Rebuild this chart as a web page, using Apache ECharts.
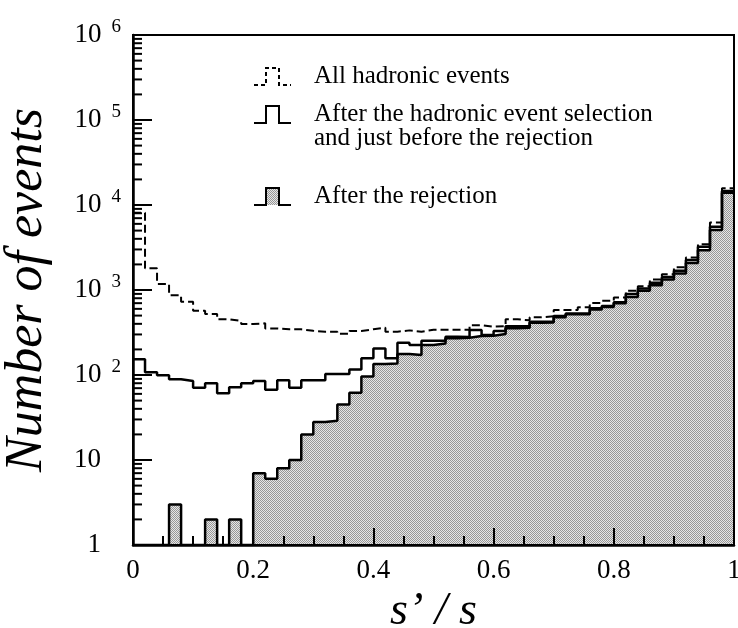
<!DOCTYPE html>
<html>
<head>
<meta charset="utf-8">
<script src="https://cdn.jsdelivr.net/npm/echarts@6/dist/echarts.min.js"></script>
<style>
html,body{margin:0;padding:0;background:#fff;}
#chart{width:738px;height:628px;}
</style>
</head>
<body>
<div id="chart"></div>
<script>
// ---- data (50 bins of s'/s, width 0.02) ----
const binWidth = 0.02;
const xTicks = [0, 0.2, 0.4, 0.6, 0.8, 1];
const yDecades = [1, 10, 100, 1000, 10000, 100000, 1000000];
const seriesNames = [
  'All hadronic events',
  'After the hadronic event selection\nand just before the rejection',
  'After the rejection'
];
const allHadronic = [
  8100, 1800, 1180, 870, 728, 570, 522, 452, 432, 398,
  405, 353, 345, 345, 331, 323, 323, 305, 330, 345,
  360, 323, 335, 323, 340, 340, 340, 340, 386, 370,
  375, 452, 440, 478, 490, 580, 580, 625, 705, 745,
  814, 980, 1110, 1325, 1530, 1850, 2420, 3450, 6220, 15740
];
const afterSelection = [
  153, 108, 99, 89, 85, 71, 80, 61, 72, 80,
  85, 67, 87, 71, 87, 87, 103, 103, 116, 157,
  205, 157, 239, 225, 253, 253, 281, 280, 338, 295,
  330, 375, 375, 423, 423, 495, 530, 530, 610, 647,
  720, 895, 1040, 1220, 1420, 1680, 2250, 3230, 5560, 14600
];
const afterRejection = [
  0, 0, 0, 3, 0, 0, 2, 0, 2, 0,
  7, 6, 8, 10, 20, 28, 29, 45, 62, 96,
  135, 137, 177, 172, 225, 235, 270, 275, 287, 290,
  304, 354, 360, 411, 415, 478, 520, 520, 590, 630,
  700, 830, 980, 1140, 1330, 1560, 2080, 2940, 5070, 13980
];

// ---- helpers ----
const yMin = yDecades[0], yMax = yDecades[yDecades.length - 1];
function stepPoints(vals) {
  // left bin edges with bin contents; empty bins sit on the axis floor
  const pts = vals.map((v, i) => [+(i * binWidth).toFixed(2), Math.max(v, yMin)]);
  pts.push([1, Math.max(vals[vals.length - 1], yMin)]);
  return pts;
}
// minor log tick values (2..9 per decade)
const minorTickValues = [];
for (let d = 0; d < yDecades.length - 1; d++)
  for (let k = 2; k <= 9; k++) minorTickValues.push(k * yDecades[d]);

// stipple fill pattern
const pc = document.createElement('canvas');
pc.width = 2; pc.height = 2;
const pctx = pc.getContext('2d');
pctx.fillStyle = '#e6e6e6'; pctx.fillRect(0, 0, 2, 2);
pctx.fillStyle = '#979797'; pctx.fillRect(0, 0, 1, 1); pctx.fillRect(1, 1, 1, 1);
const stipple = { image: pc, repeat: 'repeat' };

const serif = '"Liberation Serif", "DejaVu Serif", serif';
const stepIcon = 'path://M0,17 L12,17 L12,0 L25,0 L25,17 L37,17';
const legendCommon = {
  orient: 'vertical', left: 253, padding: 0, itemWidth: 37, itemHeight: 17,
  selectedMode: false,
  textStyle: { fontFamily: serif, fontSize: 25, color: '#000', lineHeight: 24, padding: [0, 0, 0, 18] }
};

const chart = echarts.init(document.getElementById('chart'), null, { renderer: 'canvas' });
chart.setOption({
  animation: false,
  backgroundColor: '#fff',
  grid: { left: 133, right: 4, top: 35, bottom: 83, containLabel: false, outerBoundsMode: 'none',
    show: true, z: 10, backgroundColor: 'transparent', borderColor: '#000', borderWidth: 2 },
  legend: [
    Object.assign({}, legendCommon, {
      top: 64,
      data: [{ name: seriesNames[0], icon: stepIcon,
        itemStyle: { color: 'transparent', borderColor: '#000', borderWidth: 2, borderType: [4, 3] } }]
    }),
    Object.assign({}, legendCommon, {
      top: 78,
      formatter: n => ' \n' + n,
      data: [{ name: seriesNames[1], icon: stepIcon,
        itemStyle: { color: 'transparent', borderColor: '#000', borderWidth: 2 } }]
    }),
    Object.assign({}, legendCommon, {
      top: 184,
      data: [{ name: seriesNames[2], icon: stepIcon,
        itemStyle: { color: stipple, borderColor: '#000', borderWidth: 2 } }]
    })
  ],
  xAxis: {
    type: 'value', min: 0, max: 1, interval: 0.2, position: 'bottom', z: 11,
    name: 's\u2019 / s', nameLocation: 'middle', nameGap: 33,
    nameTextStyle: { fontFamily: serif, fontStyle: 'italic', fontSize: 46, color: '#000' },
    axisLine: { show: true, onZero: false, lineStyle: { color: '#000', width: 2.5 } },
    axisTick: { show: true, inside: true, length: 17, lineStyle: { color: '#000', width: 2 } },
    minorTick: { show: true, splitNumber: 4, length: 9, lineStyle: { color: '#000', width: 2 } },
    axisLabel: { fontFamily: serif, fontSize: 27, color: '#000', margin: 12 },
    splitLine: { show: false }, minorSplitLine: { show: false }
  },
  yAxis: {
    type: 'log', logBase: 10, min: yMin, max: yMax, interval: 1, splitNumber: 6,
    position: 'left', z: 11,
    name: 'Number of events', nameLocation: 'middle', nameGap: 80,
    nameTextStyle: { fontFamily: serif, fontStyle: 'italic', fontSize: 52, color: '#000' },
    axisLine: { show: true, onZero: false, lineStyle: { color: '#000', width: 2.5 } },
    axisTick: { show: true, inside: true, length: 19, lineStyle: { color: '#000', width: 2 } },
    axisLabel: {
      margin: 12,
      formatter: v => {
        const e = Math.round(Math.log10(v));
        if (e === 0) return '{b|1}{g| }';
        if (e === 1) return '{b|10}{g| }';
        return '{b|10}{s|' + e + '}';
      },
      rich: {
        b: { fontFamily: serif, fontSize: 27, color: '#000', lineHeight: 30 },
        s: { fontFamily: serif, fontSize: 19, color: '#000', padding: [0, 0, 16, 10] },
        g: { width: 20, fontSize: 19 }
      }
    },
    splitLine: { show: false }
  },
  series: [
    {
      name: seriesNames[2], type: 'line', step: 'end',
      data: stepPoints(afterRejection), symbol: 'none', z: 2,
      lineStyle: { color: '#000', width: 2.5 }, itemStyle: { color: '#000' },
      areaStyle: { color: stipple, origin: 'start', opacity: 1 }
    },
    {
      name: seriesNames[1], type: 'line', step: 'end',
      data: stepPoints(afterSelection), symbol: 'none', z: 3,
      lineStyle: { color: '#000', width: 2.5 }, itemStyle: { color: '#000' }
    },
    {
      name: seriesNames[0], type: 'line', step: 'end',
      data: stepPoints(allHadronic), symbol: 'none', z: 4,
      lineStyle: { color: '#000', width: 2, type: [8, 4] }, itemStyle: { color: '#000' }
    },
    {
      // minor log ticks on the left frame edge, placed through the log y scale
      name: 'minorTicks', type: 'custom', clip: false, silent: true, z: 12,
      data: minorTickValues.map(v => [0, v]),
      renderItem: (params, api) => {
        const p = api.coord([api.value(0), api.value(1)]);
        return {
          type: 'line',
          shape: { x1: p[0], y1: p[1], x2: p[0] + 9, y2: p[1] },
          style: { stroke: '#000', lineWidth: 2 }
        };
      }
    }
  ]
});
</script>
</body>
</html>
